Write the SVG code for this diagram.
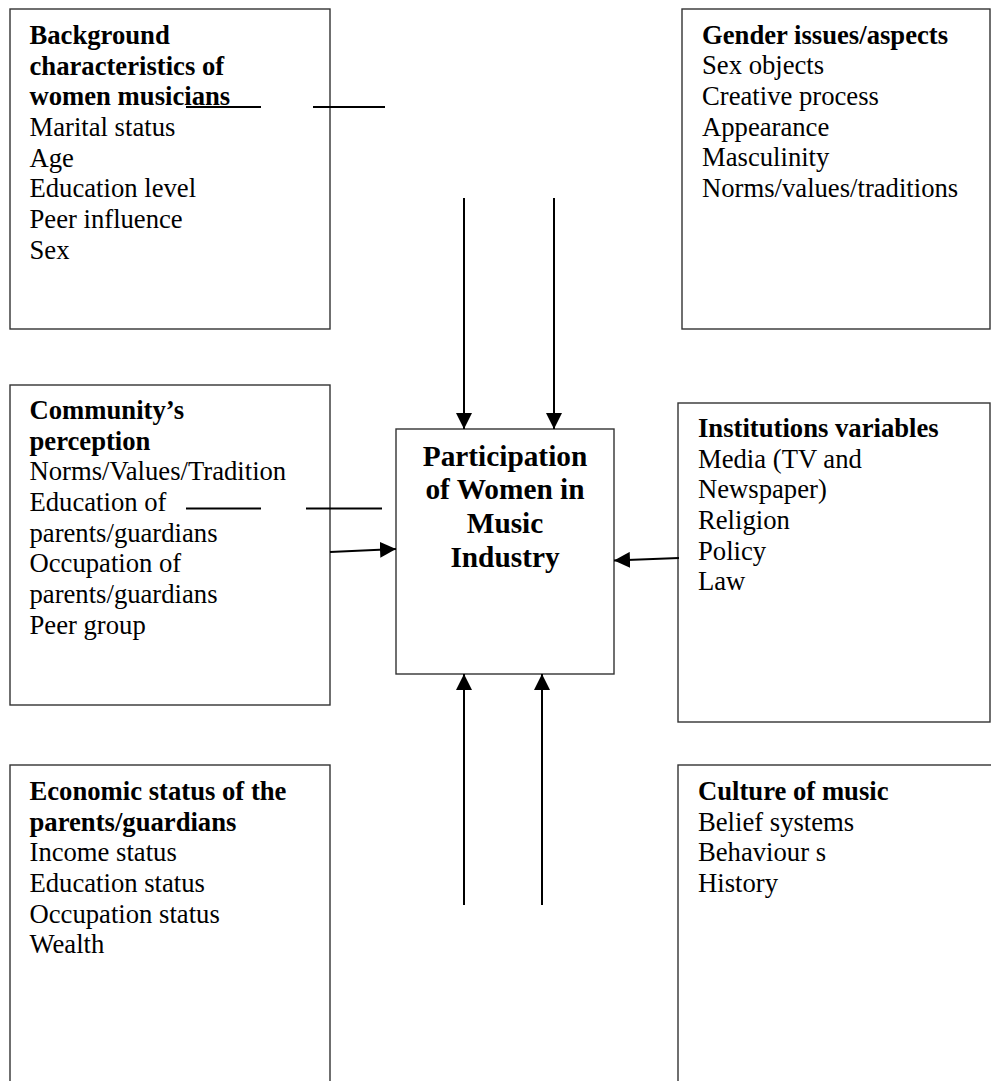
<svg xmlns="http://www.w3.org/2000/svg" width="991" height="1081" viewBox="0 0 991 1081">
<style>
.box{fill:#fff;stroke:#333;stroke-width:1.4}
text{font-family:"Liberation Serif","Times New Roman",serif;font-size:26.67px;fill:#000}
.b{font-weight:bold}
.c{font-size:29.33px;font-weight:bold;text-anchor:middle}
.ln{stroke:#000;stroke-width:2;fill:none}
.ar{stroke:#000;stroke-width:2;fill:none;marker-end:url(#ah)}
</style>
<defs>
<marker id="ah" viewBox="0 0 16 16" refX="16" refY="8" markerWidth="16" markerHeight="16" markerUnits="userSpaceOnUse" orient="auto">
<path d="M0,0 L16,8 L0,16 Z" fill="#000"/>
</marker>
</defs>
<rect width="991" height="1081" fill="#fff"/>
<g id="background">
<rect class="box" x="10" y="9" width="320" height="320"/>
<text x="29.5" y="44" class="b">Background</text>
<text x="29.5" y="74.7" class="b">characteristics of</text>
<text x="29.5" y="105.3" class="b">women musicians</text>
<text x="29.5" y="136">Marital status</text>
<text x="29.5" y="166.7">Age</text>
<text x="29.5" y="197.3">Education level</text>
<text x="29.5" y="228">Peer influence</text>
<text x="29.5" y="258.7">Sex</text>
</g>
<g id="gender">
<rect class="box" x="682" y="9" width="308" height="320"/>
<text x="702" y="43.5" class="b">Gender issues/aspects</text>
<text x="702" y="74.2">Sex objects</text>
<text x="702" y="104.8">Creative process</text>
<text x="702" y="135.5">Appearance</text>
<text x="702" y="166.2">Masculinity</text>
<text x="702" y="196.8">Norms/values/traditions</text>
</g>
<g id="community">
<rect class="box" x="10" y="385" width="320" height="320"/>
<text x="29.5" y="419" class="b">Community’s</text>
<text x="29.5" y="449.7" class="b">perception</text>
<text x="29.5" y="480.3">Norms/Values/Tradition</text>
<text x="29.5" y="511">Education of</text>
<text x="29.5" y="541.7">parents/guardians</text>
<text x="29.5" y="572.3">Occupation of</text>
<text x="29.5" y="603">parents/guardians</text>
<text x="29.5" y="633.7">Peer group</text>
</g>
<g id="participation">
<rect class="box" x="396" y="429" width="218" height="245"/>
<text x="505" y="465.5" class="c">Participation</text>
<text x="505" y="499.3" class="c">of Women in</text>
<text x="505" y="533" class="c">Music</text>
<text x="505" y="566.7" class="c">Industry</text>
</g>
<g id="institutions">
<rect class="box" x="678" y="403" width="312" height="319"/>
<text x="698" y="437" class="b">Institutions variables</text>
<text x="698" y="467.7">Media (TV and</text>
<text x="698" y="498.3">Newspaper)</text>
<text x="698" y="529">Religion</text>
<text x="698" y="559.7">Policy</text>
<text x="698" y="590.3">Law</text>
</g>
<g id="economic">
<rect class="box" x="10" y="765" width="320" height="330"/>
<text x="29.5" y="800" class="b">Economic status of the</text>
<text x="29.5" y="830.7" class="b">parents/guardians</text>
<text x="29.5" y="861.3">Income status</text>
<text x="29.5" y="892">Education status</text>
<text x="29.5" y="922.7">Occupation status</text>
<text x="29.5" y="953.3">Wealth</text>
</g>
<g id="culture">
<rect class="box" x="678" y="765" width="330" height="330"/>
<text x="698" y="800" class="b">Culture of music</text>
<text x="698" y="830.7">Belief systems</text>
<text x="698" y="861.3">Behaviour s</text>
<text x="698" y="892">History</text>
</g>
<g id="connectors">
<line class="ln" x1="186" y1="107" x2="261" y2="107"/>
<line class="ln" x1="313" y1="107" x2="385" y2="107"/>
<line class="ln" x1="186" y1="508.5" x2="261" y2="508.5"/>
<line class="ln" x1="306" y1="508.5" x2="382" y2="508.5"/>
<line class="ar" x1="464" y1="198" x2="464" y2="429"/>
<line class="ar" x1="554" y1="198" x2="554" y2="429"/>
<line class="ar" x1="464" y1="905" x2="464" y2="674"/>
<line class="ar" x1="542" y1="905" x2="542" y2="674"/>
<line class="ar" x1="330" y1="552" x2="396" y2="549"/>
<line class="ar" x1="679" y1="558" x2="614" y2="560.5"/>
</g>
</svg>
